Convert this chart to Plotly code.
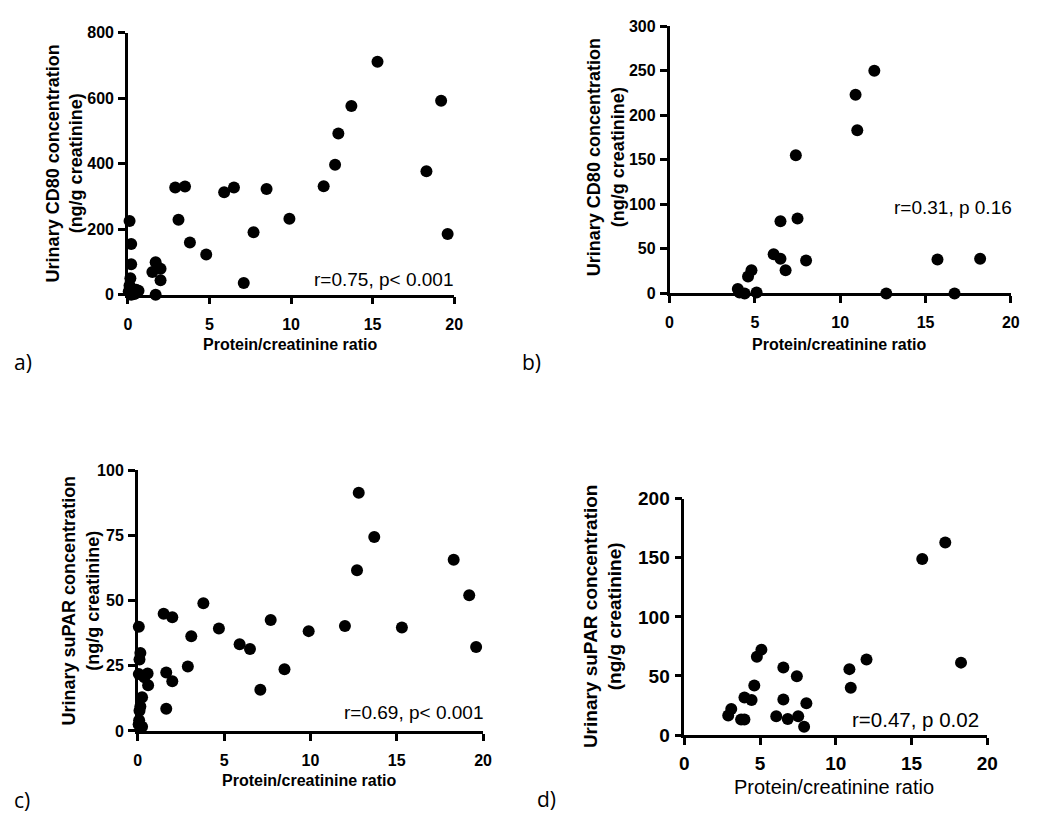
import plotly.graph_objects as go

# panel a: urinary CD80 vs protein/creatinine ratio (all patients)
a_x = [0.05, 0.1, 0.1, 0.2, 0.15, 0.2, 0.2, 0.25, 0.4, 0.5, 0.65, 1.5, 1.7, 1.7, 2.0, 2.0,
       2.9, 3.1, 3.5, 3.8, 4.8, 5.9, 6.5, 7.1, 7.7, 8.5, 9.9, 12.0, 12.7, 12.9, 13.7, 15.3,
       18.3, 19.2, 19.6]
a_y = [10, 225, 28, 155, 50, 93, 0, 5, 2, 15, 12, 69, 99, 0, 79, 44,
       327, 229, 330, 159, 123, 313, 327, 36, 191, 323, 232, 331, 397, 492, 576, 711,
       377, 592, 185]

# panel b: urinary CD80, second group
b_x = [4.0, 4.1, 4.4, 4.6, 4.8, 5.1, 6.1, 6.5, 6.5, 6.8, 7.4, 7.5, 8.0, 10.9, 11.0, 12.0,
       12.7, 15.7, 16.7, 18.2]
b_y = [5, 1, 0, 19, 26, 1, 44, 39, 81, 26, 155, 84, 37, 223, 183, 250, 0, 38, 0, 39]

# panel c: urinary suPAR vs protein/creatinine ratio
c_x = [0.05, 0.06, 0.06, 0.08, 0.1, 0.1, 0.15, 0.15, 0.25, 0.25, 0.38, 0.57, 0.6, 1.5, 1.65,
       1.65, 2.0, 2.0, 2.9, 3.1, 3.8, 4.7, 5.9, 6.5, 7.1, 7.7, 8.5, 9.9, 12.0, 12.7, 12.8,
       13.7, 15.3, 18.3, 19.2, 19.6]
c_y = [2.5, 40, 21.8, 4.1, 27.4, 7.7, 29.9, 9.4, 12.9, 1.6, 20.6, 22, 17.5, 45, 22.4,
       8.5, 43.6, 19.1, 24.7, 36.3, 49, 39.3, 33.3, 31.4, 15.8, 42.6, 23.7, 38.3, 40.3, 61.7, 91.4,
       74.4, 39.7, 65.7, 52.1, 32.2]

# panel d: urinary suPAR, second group
d_x = [2.9, 3.1, 3.75, 3.97, 3.97, 4.44, 4.62, 4.79, 5.09, 6.07, 6.54, 6.54, 6.83, 7.43, 7.52,
       7.91, 8.06, 10.9, 10.99, 12.03, 15.71, 17.23, 18.27]
d_y = [16.5, 22, 13.2, 13.2, 31.9, 29.7, 42, 66.2, 72.3, 15.9, 57.1, 30.2, 13.7, 49.7, 15.9,
       7.1, 26.9, 55.8, 40.1, 64, 149, 163, 61.3]

x_ticks = [0, 5, 10, 15, 20]
a_yticks = [0, 200, 400, 600, 800]
b_yticks = [0, 50, 100, 150, 200, 250, 300]
c_yticks = [0, 25, 50, 75, 100]
d_yticks = [0, 50, 100, 150, 200]

NARROW = "Arial Narrow, Liberation Sans"
SANS = "Liberation Sans"
W, H = 1050, 818

fig = go.Figure()


def px(x):
    return x / W


def py(y):
    return 1 - y / H


def add_panel(n, xs, ys, box, yticks, tick_size, msize, x_standoff):
    # box = (left, top, right, bottom) in pixels
    l, t, r, b = box
    sfx = "" if n == 1 else str(n)
    fig.add_trace(go.Scatter(
        x=xs, y=ys, mode="markers", xaxis="x" + sfx, yaxis="y" + sfx,
        marker=dict(color="black", size=msize), cliponaxis=False, showlegend=False,
    ))
    axis_style = dict(
        showline=True, linecolor="black", linewidth=2.5, ticks="outside", ticklen=7,
        tickwidth=2.5, tickcolor="black", showgrid=False, zeroline=False,
        tickfont=dict(family=SANS, size=tick_size, color="black"),
    )
    fig.update_layout({
        "xaxis" + sfx: dict(domain=[px(l), px(r)], range=[0, 20], tickvals=x_ticks,
                            ticktext=[f"<b>{v}</b>" for v in x_ticks], ticklabelstandoff=x_standoff,
                            anchor="y" + sfx, **axis_style),
        "yaxis" + sfx: dict(domain=[py(b), py(t)], range=[yticks[0], yticks[-1]], tickvals=yticks,
                            ticktext=[f"<b>{v}</b>" for v in yticks], ticklabelstandoff=1,
                            anchor="x" + sfx, **axis_style),
    })


add_panel(1, a_x, a_y, (116.7, 15, 448, 284), a_yticks, 16, 12, 6)
add_panel(2, b_x, b_y, (666.7, 8.3, 1013.3, 282.7), b_yticks, 16, 12, 6)
add_panel(3, c_x, c_y, (126.7, 464.3, 477.3, 731.7), c_yticks, 16, 12, 6)
add_panel(4, d_x, d_y, (681.7, 493.3, 989.3, 736), d_yticks, 19, 12, 2)

annotations = []


def label(text, x, y, font, size, bold=False, angle=0, xanchor="center"):
    annotations.append(dict(
        text=f"<b>{text}</b>" if bold else text, x=px(x), y=py(y), xref="paper", yref="paper",
        showarrow=False, xanchor=xanchor, yanchor="middle", textangle=angle, borderpad=0,
        font=dict(family=font, size=size, color="black"),
    ))


# axis titles
label("Urinary CD80 concentration<br>(ng/g creatinine)", 52, 149, SANS, 18, True, -90)
label("Protein/creatinine ratio", 281, 335, SANS, 16, True)
label("Urinary CD80 concentration<br>(ng/g creatinine)", 602, 143, SANS, 18, True, -90)
label("Protein/creatinine ratio", 839, 335, SANS, 16, True)
label("Urinary suPAR concentration<br>(ng/g creatinine)", 69, 598, SANS, 18, True, -90)
label("Protein/creatinine ratio", 301, 783, SANS, 16, True)
label("Urinary suPAR concentration<br>(ng/g creatinine)", 599, 614, SANS, 19, True, -90)
label("Protein/creatinine ratio", 834, 789, SANS, 20)

# correlation statistics
label("r=0.75, p< 0.001", 448, 268, NARROW, 19, xanchor="right")
label("r=0.31, p 0.16", 1015, 194, NARROW, 19, xanchor="right")
label("r=0.69, p< 0.001", 478, 713, NARROW, 19, xanchor="right")
label("r=0.47, p 0.02", 982, 720, SANS, 20.5, xanchor="right")

# panel letters
for letter, x, y in [("a)", 0, 353), ("b)", 516, 353), ("c)", 0, 803), ("d)", 531, 802)]:
    label(letter, x, y, "Open Sans", 21, xanchor="left")

fig.update_layout(
    width=W, height=H, margin=dict(l=0, r=0, t=0, b=0),
    paper_bgcolor="white", plot_bgcolor="white",
    annotations=annotations,
)

fig.write_html("out.html")
